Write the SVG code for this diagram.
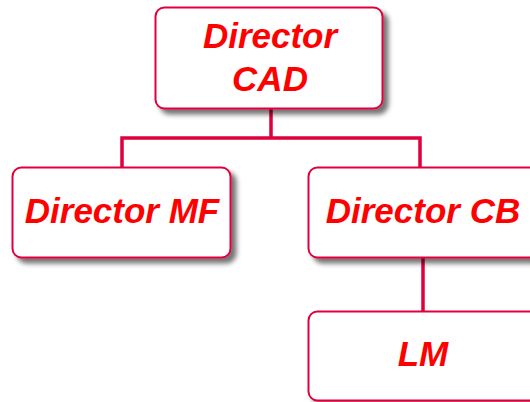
<svg xmlns="http://www.w3.org/2000/svg" width="530" height="402" viewBox="0 0 530 402">
<defs>
<filter id="sh" x="-10%" y="-10%" width="130%" height="140%">
<feDropShadow dx="5" dy="5" stdDeviation="2.5" flood-color="#000" flood-opacity="0.55"/>
</filter>
<style>
.box{fill:#fff;stroke:#e0003c;stroke-width:2;filter:url(#sh)}
.t{font-family:"Liberation Sans",Arial,sans-serif;font-size:35px;font-weight:bold;font-style:italic;fill:#ff0000;text-anchor:middle}
.c{fill:none;stroke:#e0003c;stroke-width:3.5}
</style>
</defs>
<rect width="530" height="402" fill="#fff"/>
<g id="connectors">
<path class="c" d="M271 109V138H122V167M271 138H420V167"/>
<path class="c" d="M423 257V311"/>
</g>
<g id="director-cad">
<rect class="box" x="155.5" y="7.5" width="227" height="101" rx="9"/>
<text class="t" x="270" y="48">Director</text>
<text class="t" x="270" y="91">CAD</text>
</g>
<g id="director-mf">
<rect class="box" x="12.5" y="167.5" width="218" height="90" rx="9"/>
<text class="t" x="122" y="223">Director MF</text>
</g>
<g id="director-cb">
<rect class="box" x="308.5" y="167.5" width="230" height="90" rx="9"/>
<text class="t" x="423" y="223">Director CB</text>
</g>
<g id="lm">
<rect class="box" x="308.5" y="311.5" width="230" height="89" rx="9"/>
<text class="t" x="423" y="366">LM</text>
</g>
</svg>
